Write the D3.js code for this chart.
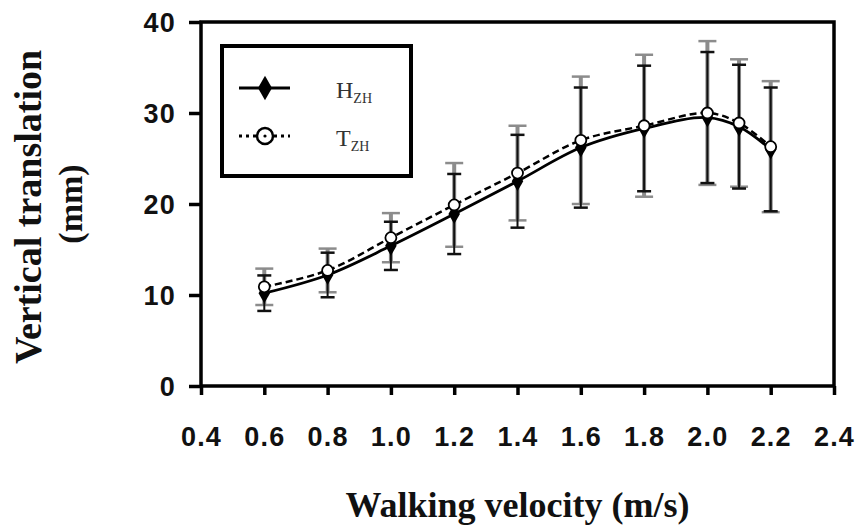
<!DOCTYPE html>
<html>
<head>
<meta charset="utf-8">
<script src="https://cdn.jsdelivr.net/npm/d3@7"></script>
<style>
  html, body { margin: 0; padding: 0; background: #fff; }
  svg { display: block; }
</style>
</head>
<body>
<div id="chart"></div>
<script>
// walking velocity (m/s) for each measured condition
const velocity = [0.6, 0.8, 1.0, 1.2, 1.4, 1.6, 1.8, 2.0, 2.1, 2.2];

// H_ZH : mean and SD (mm)
const hMean = [10.2, 12.2, 15.4, 18.9, 22.5, 26.2, 28.3, 29.5, 28.5, 26.0];
const hSD   = [1.95, 2.45, 2.65, 4.4, 5.1, 6.6, 6.9, 7.2, 6.8, 6.8];

// T_ZH : mean and SD (mm)
const tMean = [10.9, 12.7, 16.3, 19.9, 23.4, 27.0, 28.6, 30.0, 28.9, 26.3];
const tSD   = [2.0, 2.4, 2.7, 4.6, 5.2, 7.0, 7.8, 7.9, 7.0, 7.2];

const yTickValues = [0, 10, 20, 30, 40];

const width = 860, height = 527;

const hData = velocity.map((v, i) => ({ v, m: hMean[i], sd: hSD[i] }));
const tData = velocity.map((v, i) => ({ v, m: tMean[i], sd: tSD[i] }));

const x = d3.scaleLinear().domain([0.4, 2.4]).range([201, 834]);
const y = d3.scaleLinear().domain([0, 40]).range([386, 22]);

const svg = d3.select("#chart").append("svg")
    .attr("width", width)
    .attr("height", height);

// axes (ticks outward), bold sans labels
const xAxis = d3.axisBottom(x).ticks(10).tickFormat(d3.format(".1f")).tickSize(9).tickSizeOuter(0);
const yAxis = d3.axisLeft(y).tickValues(yTickValues).tickSize(12).tickSizeOuter(0);

const gx = svg.append("g").attr("transform", `translate(0,${y(0)})`).call(xAxis);
const gy = svg.append("g").attr("transform", `translate(${x(0.4)},0)`).call(yAxis);

[gx, gy].forEach(g => {
    g.select(".domain").remove();
    g.selectAll(".tick line").attr("stroke", "#000").attr("stroke-width", 3.5);
    g.selectAll(".tick text")
        .attr("fill", "#111")
        .attr("font-family", "'Liberation Sans', Arial, sans-serif")
        .attr("font-weight", "bold")
        .attr("font-size", 27)
        .attr("letter-spacing", 1.2);
});
gx.selectAll(".tick text").attr("y", 41).attr("dy", "0.71em");
gy.selectAll(".tick text").attr("x", -25).attr("dy", "0.36em");

// frame
svg.append("rect")
    .attr("x", x(0.4)).attr("y", y(40))
    .attr("width", x(2.4) - x(0.4)).attr("height", y(0) - y(40))
    .attr("fill", "none").attr("stroke", "#000").attr("stroke-width", 3.5);

// error bars: T in gray, H in black
function errorBars(data, color, w, capW) {
    const g = svg.append("g").attr("stroke", color);
    g.selectAll("line.bar").data(data).join("line")
        .attr("x1", d => x(d.v)).attr("x2", d => x(d.v))
        .attr("y1", d => y(d.m + d.sd)).attr("y2", d => y(d.m - d.sd))
        .attr("stroke-width", w);
    g.selectAll("line.top").data(data).join("line")
        .attr("x1", d => x(d.v) - capW / 2).attr("x2", d => x(d.v) + capW / 2)
        .attr("y1", d => y(d.m + d.sd)).attr("y2", d => y(d.m + d.sd))
        .attr("stroke-width", 2.5);
    g.selectAll("line.bot").data(data).join("line")
        .attr("x1", d => x(d.v) - capW / 2).attr("x2", d => x(d.v) + capW / 2)
        .attr("y1", d => y(d.m - d.sd)).attr("y2", d => y(d.m - d.sd))
        .attr("stroke-width", 2.5);
}
errorBars(tData, "#8c8c8c", 4, 18);
errorBars(hData, "#111", 2, 14);

// smoothed lines
const line = d3.line().x(d => x(d.v)).y(d => y(d.m)).curve(d3.curveCatmullRom);

svg.append("path").datum(hData)
    .attr("d", line).attr("fill", "none")
    .attr("stroke", "#000").attr("stroke-width", 2.8);

svg.append("path").datum(tData)
    .attr("d", line).attr("fill", "none")
    .attr("stroke", "#000").attr("stroke-width", 2.5)
    .attr("stroke-dasharray", "7,4");

// markers
const diamond = d3.symbol().type(d3.symbolDiamond).size(115);
svg.append("g").selectAll("path").data(hData).join("path")
    .attr("transform", d => `translate(${x(d.v)},${y(d.m)})`)
    .attr("d", diamond).attr("fill", "#000");

svg.append("g").selectAll("circle").data(tData).join("circle")
    .attr("cx", d => x(d.v)).attr("cy", d => y(d.m)).attr("r", 5.5)
    .attr("fill", "#fff").attr("stroke", "#000").attr("stroke-width", 1.8);

// legend
const legend = svg.append("g");
legend.append("rect")
    .attr("x", 222).attr("y", 46).attr("width", 189).attr("height", 130)
    .attr("fill", "#fff").attr("stroke", "#000").attr("stroke-width", 4);

legend.append("line").attr("x1", 239).attr("x2", 290).attr("y1", 88).attr("y2", 88)
    .attr("stroke", "#000").attr("stroke-width", 3);
legend.append("path").attr("transform", "translate(265,88)")
    .attr("d", d3.symbol().type(d3.symbolDiamond).size(170)).attr("fill", "#000");

legend.append("line").attr("x1", 239).attr("x2", 290).attr("y1", 136).attr("y2", 136)
    .attr("stroke", "#000").attr("stroke-width", 3).attr("stroke-dasharray", "3,4");
legend.append("circle").attr("cx", 265).attr("cy", 136).attr("r", 8)
    .attr("fill", "#fff").attr("stroke", "#000").attr("stroke-width", 2.5);
legend.append("circle").attr("cx", 265).attr("cy", 136).attr("r", 1.6).attr("fill", "#000");

const legendNames = [["H", "ZH", 98], ["T", "ZH", 146]];
legendNames.forEach(([main, sub, yy]) => {
    const t = legend.append("text")
        .attr("x", 336).attr("y", yy)
        .attr("font-family", "'Liberation Serif', 'Times New Roman', serif")
        .attr("font-size", 24).attr("fill", "#333");
    t.append("tspan").text(main);
    t.append("tspan").attr("font-size", 14).attr("dy", 5).text(sub);
});

// axis titles
svg.append("text")
    .attr("x", (x(0.4) + x(2.4)) / 2).attr("y", 517)
    .attr("text-anchor", "middle")
    .attr("font-family", "'Liberation Serif', 'Times New Roman', serif")
    .attr("font-weight", "bold").attr("font-size", 36).attr("fill", "#111")
    .text("Walking velocity (m/s)");

svg.append("text")
    .attr("transform", "translate(41,207) rotate(-90)")
    .attr("text-anchor", "middle")
    .attr("font-family", "'Liberation Serif', 'Times New Roman', serif")
    .attr("font-weight", "bold").attr("font-size", 38).attr("fill", "#111")
    .text("Vertical translation");

svg.append("text")
    .attr("transform", "translate(82,204) rotate(-90)")
    .attr("text-anchor", "middle")
    .attr("font-family", "'Liberation Serif', 'Times New Roman', serif")
    .attr("font-weight", "bold").attr("font-size", 34).attr("fill", "#111")
    .text("(mm)");
</script>
</body>
</html>
